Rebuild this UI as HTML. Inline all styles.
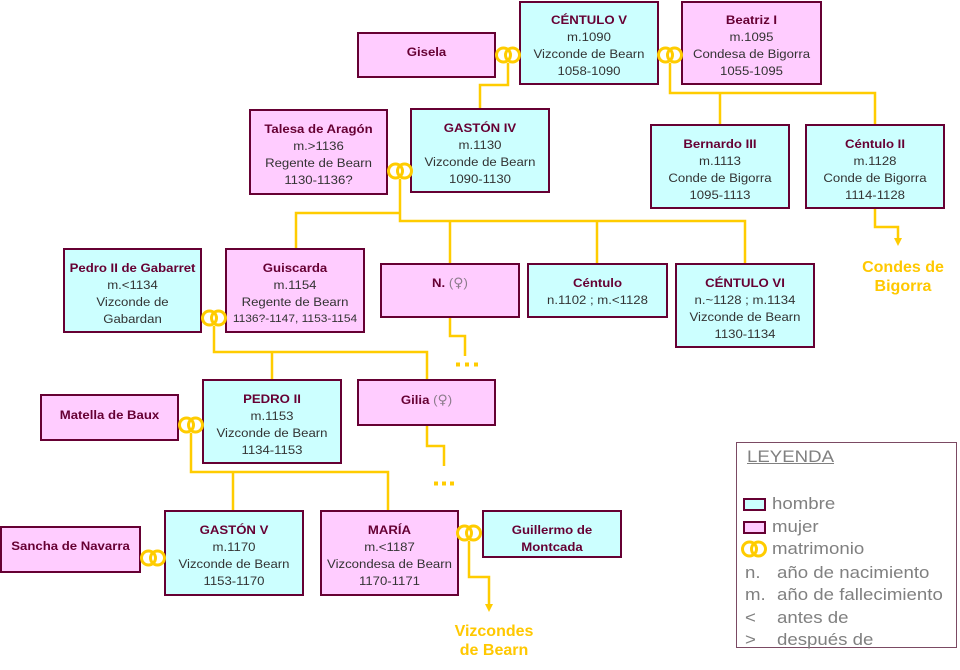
<!DOCTYPE html>
<html><head><meta charset="utf-8">
<style>
body{margin:0;background:#fff;}
#c{position:relative;width:960px;height:670px;overflow:hidden;background:#fff;font-family:"Liberation Sans",Arial,sans-serif;}
.b{position:absolute;box-sizing:border-box;border:2px solid #660033;text-align:center;}
.m{background:#CCFFFF;}
.f{background:#FFCCFF;}
.t{position:absolute;left:0;right:0;top:9.5px;font-size:12.2px;line-height:17.3px;color:#333;white-space:nowrap;transform:scaleX(1.08);transform-origin:50% 0;}
.t b{color:#660033;}
.g{color:#8c7c8c;}
.v{font-family:"DejaVu Sans",sans-serif;font-size:13px;}
.lab{position:absolute;color:#FFC800;font-weight:bold;font-size:16px;line-height:19px;text-align:center;white-space:nowrap;}
#leg{position:absolute;left:736px;top:442px;width:221px;height:206px;box-sizing:border-box;border:1.5px solid #7b4a63;background:#fff;}
.lt{position:absolute;font-size:16.5px;line-height:22px;color:#808080;white-space:nowrap;transform:scaleX(1.13);transform-origin:0 0;}
.sw{position:absolute;box-sizing:border-box;border:2px solid #660033;width:23px;height:13px;}
svg{position:absolute;left:0;top:0;}
</style></head><body>
<div id="c">

<div class="b f" style="left:357px;top:32px;width:139px;height:46px;"><div class="t"><b>Gisela</b></div></div>
<div class="b m" style="left:519px;top:1px;width:140px;height:84px;"><div class="t" style="top:8.5px"><b>CÉNTULO V</b><div>m.1090</div><div>Vizconde de Bearn</div><div>1058-1090</div></div></div>
<div class="b f" style="left:681px;top:1px;width:141px;height:84px;"><div class="t" style="top:8.5px"><b>Beatriz I</b><div>m.1095</div><div>Condesa de Bigorra</div><div>1055-1095</div></div></div>

<div class="b f" style="left:249px;top:109px;width:139px;height:86px;"><div class="t"><b>Talesa de Aragón</b><div>m.&gt;1136</div><div>Regente de Bearn</div><div>1130-1136?</div></div></div>
<div class="b m" style="left:410px;top:108px;width:140px;height:85px;"><div class="t"><b>GASTÓN IV</b><div>m.1130</div><div>Vizconde de Bearn</div><div>1090-1130</div></div></div>
<div class="b m" style="left:650px;top:124px;width:140px;height:85px;"><div class="t"><b>Bernardo III</b><div>m.1113</div><div>Conde de Bigorra</div><div>1095-1113</div></div></div>
<div class="b m" style="left:805px;top:124px;width:140px;height:85px;"><div class="t"><b>Céntulo II</b><div>m.1128</div><div>Conde de Bigorra</div><div>1114-1128</div></div></div>

<div class="b m" style="left:63px;top:248px;width:139px;height:85px;"><div class="t"><b>Pedro II de Gabarret</b><div>m.&lt;1134</div><div>Vizconde de</div><div>Gabardan</div></div></div>
<div class="b f" style="left:225px;top:248px;width:140px;height:85px;"><div class="t"><b>Guiscarda</b><div>m.1154</div><div>Regente de Bearn</div><div style="font-size:11.1px">1136?-1147, 1153-1154</div></div></div>
<div class="b f" style="left:380px;top:263px;width:140px;height:55px;"><div class="t"><b>N.</b> <span class="g">(<span class="v">♀</span>)</span></div></div>
<div class="b m" style="left:527px;top:263px;width:141px;height:55px;"><div class="t"><b>Céntulo</b><div>n.1102 ; m.&lt;1128</div></div></div>
<div class="b m" style="left:675px;top:263px;width:140px;height:85px;"><div class="t"><b>CÉNTULO VI</b><div>n.~1128 ; m.1134</div><div>Vizconde de Bearn</div><div>1130-1134</div></div></div>

<div class="b f" style="left:40px;top:394px;width:139px;height:47px;"><div class="t" style="top:10.5px"><b>Matella de Baux</b></div></div>
<div class="b m" style="left:202px;top:379px;width:140px;height:85px;"><div class="t"><b>PEDRO II</b><div>m.1153</div><div>Vizconde de Bearn</div><div>1134-1153</div></div></div>
<div class="b f" style="left:357px;top:379px;width:139px;height:47px;"><div class="t" style="top:10.5px"><b>Gilia</b> <span class="g">(<span class="v">♀</span>)</span></div></div>

<div class="b f" style="left:0px;top:526px;width:141px;height:47px;"><div class="t"><b>Sancha de Navarra</b></div></div>
<div class="b m" style="left:164px;top:510px;width:140px;height:86px;"><div class="t"><b>GASTÓN V</b><div>m.1170</div><div>Vizconde de Bearn</div><div>1153-1170</div></div></div>
<div class="b f" style="left:320px;top:510px;width:139px;height:86px;"><div class="t"><b>MARÍA</b><div>m.&lt;1187</div><div>Vizcondesa de Bearn</div><div>1170-1171</div></div></div>
<div class="b m" style="left:482px;top:510px;width:140px;height:48px;"><div class="t"><b>Guillermo de</b><div><b>Montcada</b></div></div></div>

<div class="lab" style="left:843px;top:258px;width:120px;">Condes de<br>Bigorra</div>
<div class="lab" style="left:434px;top:622px;width:120px;">Vizcondes<br>de Bearn</div>

<div id="leg"></div>
<div class="lt" style="left:747px;top:446px;text-decoration:underline;">LEYENDA</div>
<div class="sw" style="left:743px;top:498px;background:#CCFFFF;"></div>
<div class="lt" style="left:772px;top:493px;">hombre</div>
<div class="sw" style="left:743px;top:521px;background:#FFCCFF;"></div>
<div class="lt" style="left:772px;top:516px;">mujer</div>
<div class="lt" style="left:772px;top:538px;">matrimonio</div>
<div class="lt" style="left:745px;top:562px;">n.</div>
<div class="lt" style="left:777px;top:562px;">año de nacimiento</div>
<div class="lt" style="left:745px;top:584px;">m.</div>
<div class="lt" style="left:777px;top:584px;">año de fallecimiento</div>
<div class="lt" style="left:745px;top:607px;">&lt;</div>
<div class="lt" style="left:777px;top:607px;">antes de</div>
<div class="lt" style="left:745px;top:629px;">&gt;</div>
<div class="lt" style="left:777px;top:629px;">después de</div>

<svg width="960" height="670" viewBox="0 0 960 670">
<g fill="none" stroke="#FFCC00" stroke-width="2.5">
<path d="M508,63 V85 H480 V108"/>
<path d="M670,63 V93 H875 V124"/>
<path d="M720,93 V124"/>
<path d="M875,209 V227 H898 V239"/>
<path d="M400,179 V221 H745 V263"/>
<path d="M400,213 H296 V248"/>
<path d="M450,221 V263"/>
<path d="M597,221 V263"/>
<path d="M450,318 V336 H465 V356"/>
<path d="M214,326 V352 H427 V379"/>
<path d="M272,352 V379"/>
<path d="M427,426 V446 H444 V466"/>
<path d="M191,433 V472 H388 V510"/>
<path d="M233,472 V510"/>
<path d="M469,541 V577 H489 V605"/>
</g>
<g fill="#FFCC00">
<polygon points="894,238 902,238 898,246"/>
<polygon points="485,604 493,604 489,612"/>
<rect x="456" y="362.5" width="4" height="4"/>
<rect x="465" y="362.5" width="4" height="4"/>
<rect x="474" y="362.5" width="4" height="4"/>
<rect x="434" y="481.5" width="4" height="4"/>
<rect x="442" y="481.5" width="4" height="4"/>
<rect x="450" y="481.5" width="4" height="4"/>
</g>
<g fill="none" stroke="#FFCC00" stroke-width="3">
<circle cx="503.5" cy="55" r="7"/><circle cx="512.5" cy="55" r="7"/>
<circle cx="665.5" cy="55" r="7"/><circle cx="674.5" cy="55" r="7"/>
<circle cx="395.5" cy="171" r="7"/><circle cx="404.5" cy="171" r="7"/>
<circle cx="209.5" cy="318" r="7"/><circle cx="218.5" cy="318" r="7"/>
<circle cx="186.5" cy="425" r="7"/><circle cx="195.5" cy="425" r="7"/>
<circle cx="148.5" cy="558" r="7"/><circle cx="157.5" cy="558" r="7"/>
<circle cx="464.5" cy="533" r="7"/><circle cx="473.5" cy="533" r="7"/>
<circle cx="749.5" cy="549" r="7"/><circle cx="758.5" cy="549" r="7"/>
</g>
</svg>
</div>
</body></html>
